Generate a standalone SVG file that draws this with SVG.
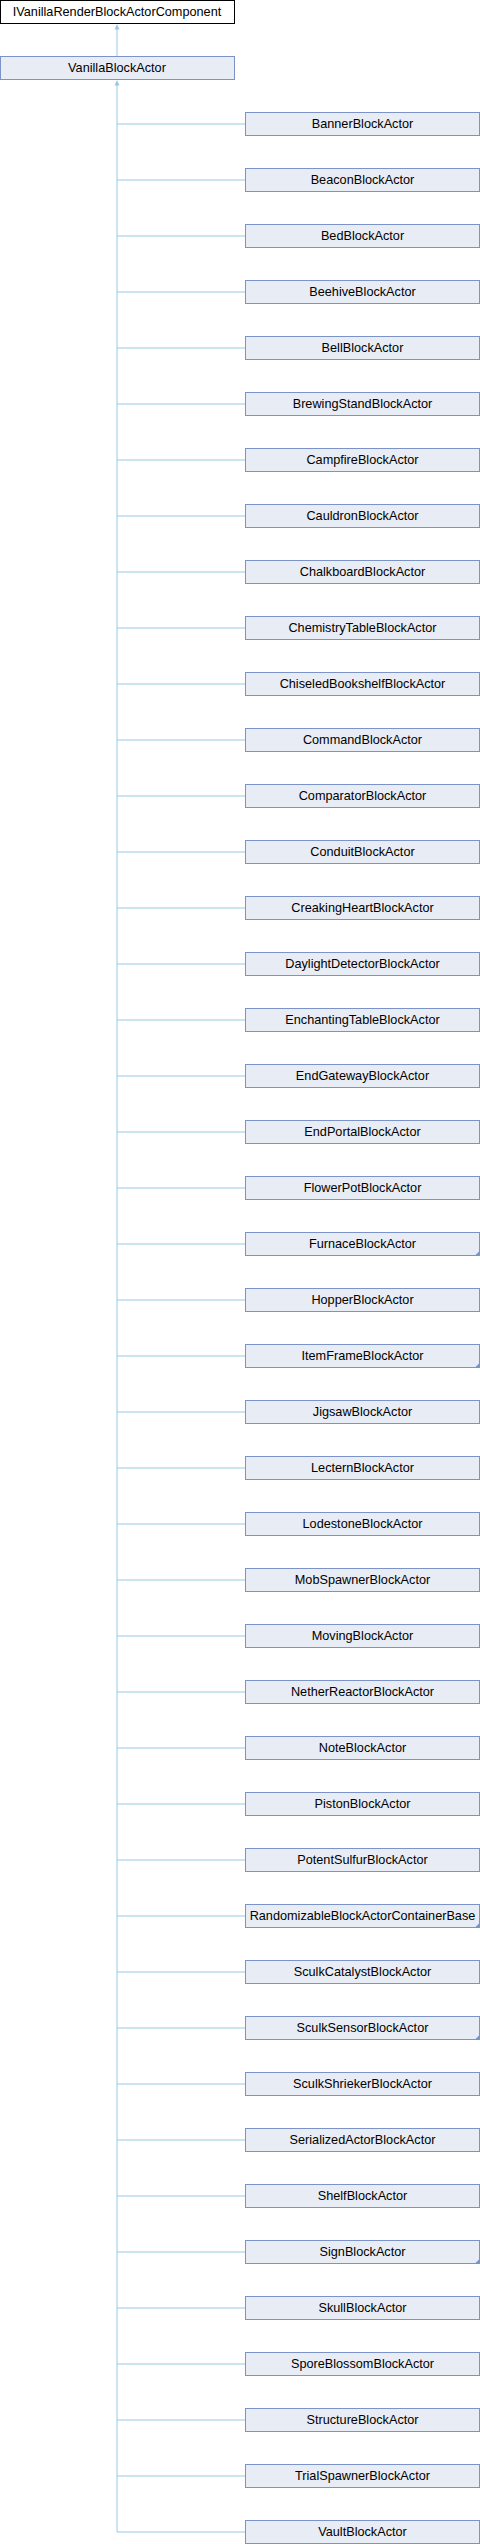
<svg xmlns="http://www.w3.org/2000/svg" width="480" height="2544" viewBox="0 0 480 2544">
<style>
.b{fill:#E8ECF5;stroke:#7B93C8;stroke-width:1}
.r{fill:#FFFFFF;stroke:#000000;stroke-width:1}
.t{font-family:"Liberation Sans",Arial,sans-serif;font-size:12.7px;fill:#000;text-anchor:middle}
.e{stroke:#97C9E8;stroke-width:1;fill:none}
.a{fill:#97C9E8}
.m{fill:#7B93C8}
</style>
<rect width="480" height="2544" fill="#FFFFFF"/>
<g id="connectors">
<path class="e" d="M117,29 V56.5 M117,85 V2532"/>
<polygon class="a" points="117,24 119.5,29.5 114.5,29.5"/>
<polygon class="a" points="117,80 119.5,85.5 114.5,85.5"/>
<path class="e" d="M117,124H245M117,180H245M117,236H245M117,292H245M117,348H245M117,404H245M117,460H245M117,516H245M117,572H245M117,628H245M117,684H245M117,740H245M117,796H245M117,852H245M117,908H245M117,964H245M117,1020H245M117,1076H245M117,1132H245M117,1188H245M117,1244H245M117,1300H245M117,1356H245M117,1412H245M117,1468H245M117,1524H245M117,1580H245M117,1636H245M117,1692H245M117,1748H245M117,1804H245M117,1860H245M117,1916H245M117,1972H245M117,2028H245M117,2084H245M117,2140H245M117,2196H245M117,2252H245M117,2308H245M117,2364H245M117,2420H245M117,2476H245M117,2532H245"/>
</g>
<g id="IVanillaRenderBlockActorComponent"><rect class="r" x="0.5" y="0.5" width="234" height="23"/><text class="t" x="117" y="15.5">IVanillaRenderBlockActorComponent</text></g>
<g id="VanillaBlockActor"><rect class="b" x="0.5" y="56.5" width="234" height="23"/><text class="t" x="117" y="71.5">VanillaBlockActor</text></g>
<g id="BannerBlockActor"><rect class="b" x="245.5" y="112.5" width="234" height="23"/><text class="t" x="362.5" y="127.5">BannerBlockActor</text></g>
<g id="BeaconBlockActor"><rect class="b" x="245.5" y="168.5" width="234" height="23"/><text class="t" x="362.5" y="183.5">BeaconBlockActor</text></g>
<g id="BedBlockActor"><rect class="b" x="245.5" y="224.5" width="234" height="23"/><text class="t" x="362.5" y="239.5">BedBlockActor</text></g>
<g id="BeehiveBlockActor"><rect class="b" x="245.5" y="280.5" width="234" height="23"/><text class="t" x="362.5" y="295.5">BeehiveBlockActor</text></g>
<g id="BellBlockActor"><rect class="b" x="245.5" y="336.5" width="234" height="23"/><text class="t" x="362.5" y="351.5">BellBlockActor</text></g>
<g id="BrewingStandBlockActor"><rect class="b" x="245.5" y="392.5" width="234" height="23"/><text class="t" x="362.5" y="407.5">BrewingStandBlockActor</text></g>
<g id="CampfireBlockActor"><rect class="b" x="245.5" y="448.5" width="234" height="23"/><text class="t" x="362.5" y="463.5">CampfireBlockActor</text></g>
<g id="CauldronBlockActor"><rect class="b" x="245.5" y="504.5" width="234" height="23"/><text class="t" x="362.5" y="519.5">CauldronBlockActor</text></g>
<g id="ChalkboardBlockActor"><rect class="b" x="245.5" y="560.5" width="234" height="23"/><text class="t" x="362.5" y="575.5">ChalkboardBlockActor</text></g>
<g id="ChemistryTableBlockActor"><rect class="b" x="245.5" y="616.5" width="234" height="23"/><text class="t" x="362.5" y="631.5">ChemistryTableBlockActor</text></g>
<g id="ChiseledBookshelfBlockActor"><rect class="b" x="245.5" y="672.5" width="234" height="23"/><text class="t" x="362.5" y="687.5">ChiseledBookshelfBlockActor</text></g>
<g id="CommandBlockActor"><rect class="b" x="245.5" y="728.5" width="234" height="23"/><text class="t" x="362.5" y="743.5">CommandBlockActor</text></g>
<g id="ComparatorBlockActor"><rect class="b" x="245.5" y="784.5" width="234" height="23"/><text class="t" x="362.5" y="799.5">ComparatorBlockActor</text></g>
<g id="ConduitBlockActor"><rect class="b" x="245.5" y="840.5" width="234" height="23"/><text class="t" x="362.5" y="855.5">ConduitBlockActor</text></g>
<g id="CreakingHeartBlockActor"><rect class="b" x="245.5" y="896.5" width="234" height="23"/><text class="t" x="362.5" y="911.5">CreakingHeartBlockActor</text></g>
<g id="DaylightDetectorBlockActor"><rect class="b" x="245.5" y="952.5" width="234" height="23"/><text class="t" x="362.5" y="967.5">DaylightDetectorBlockActor</text></g>
<g id="EnchantingTableBlockActor"><rect class="b" x="245.5" y="1008.5" width="234" height="23"/><text class="t" x="362.5" y="1023.5">EnchantingTableBlockActor</text></g>
<g id="EndGatewayBlockActor"><rect class="b" x="245.5" y="1064.5" width="234" height="23"/><text class="t" x="362.5" y="1079.5">EndGatewayBlockActor</text></g>
<g id="EndPortalBlockActor"><rect class="b" x="245.5" y="1120.5" width="234" height="23"/><text class="t" x="362.5" y="1135.5">EndPortalBlockActor</text></g>
<g id="FlowerPotBlockActor"><rect class="b" x="245.5" y="1176.5" width="234" height="23"/><text class="t" x="362.5" y="1191.5">FlowerPotBlockActor</text></g>
<g id="FurnaceBlockActor"><rect class="b" x="245.5" y="1232.5" width="234" height="23"/><polygon class="m" points="480,1250.5 480,1256 474.5,1256"/><text class="t" x="362.5" y="1247.5">FurnaceBlockActor</text></g>
<g id="HopperBlockActor"><rect class="b" x="245.5" y="1288.5" width="234" height="23"/><text class="t" x="362.5" y="1303.5">HopperBlockActor</text></g>
<g id="ItemFrameBlockActor"><rect class="b" x="245.5" y="1344.5" width="234" height="23"/><polygon class="m" points="480,1362.5 480,1368 474.5,1368"/><text class="t" x="362.5" y="1359.5">ItemFrameBlockActor</text></g>
<g id="JigsawBlockActor"><rect class="b" x="245.5" y="1400.5" width="234" height="23"/><text class="t" x="362.5" y="1415.5">JigsawBlockActor</text></g>
<g id="LecternBlockActor"><rect class="b" x="245.5" y="1456.5" width="234" height="23"/><text class="t" x="362.5" y="1471.5">LecternBlockActor</text></g>
<g id="LodestoneBlockActor"><rect class="b" x="245.5" y="1512.5" width="234" height="23"/><text class="t" x="362.5" y="1527.5">LodestoneBlockActor</text></g>
<g id="MobSpawnerBlockActor"><rect class="b" x="245.5" y="1568.5" width="234" height="23"/><text class="t" x="362.5" y="1583.5">MobSpawnerBlockActor</text></g>
<g id="MovingBlockActor"><rect class="b" x="245.5" y="1624.5" width="234" height="23"/><text class="t" x="362.5" y="1639.5">MovingBlockActor</text></g>
<g id="NetherReactorBlockActor"><rect class="b" x="245.5" y="1680.5" width="234" height="23"/><text class="t" x="362.5" y="1695.5">NetherReactorBlockActor</text></g>
<g id="NoteBlockActor"><rect class="b" x="245.5" y="1736.5" width="234" height="23"/><text class="t" x="362.5" y="1751.5">NoteBlockActor</text></g>
<g id="PistonBlockActor"><rect class="b" x="245.5" y="1792.5" width="234" height="23"/><text class="t" x="362.5" y="1807.5">PistonBlockActor</text></g>
<g id="PotentSulfurBlockActor"><rect class="b" x="245.5" y="1848.5" width="234" height="23"/><text class="t" x="362.5" y="1863.5">PotentSulfurBlockActor</text></g>
<g id="RandomizableBlockActorContainerBase"><rect class="b" x="245.5" y="1904.5" width="234" height="23"/><polygon class="m" points="480,1922.5 480,1928 474.5,1928"/><text class="t" x="362.5" y="1919.5">RandomizableBlockActorContainerBase</text></g>
<g id="SculkCatalystBlockActor"><rect class="b" x="245.5" y="1960.5" width="234" height="23"/><text class="t" x="362.5" y="1975.5">SculkCatalystBlockActor</text></g>
<g id="SculkSensorBlockActor"><rect class="b" x="245.5" y="2016.5" width="234" height="23"/><polygon class="m" points="480,2034.5 480,2040 474.5,2040"/><text class="t" x="362.5" y="2031.5">SculkSensorBlockActor</text></g>
<g id="SculkShriekerBlockActor"><rect class="b" x="245.5" y="2072.5" width="234" height="23"/><text class="t" x="362.5" y="2087.5">SculkShriekerBlockActor</text></g>
<g id="SerializedActorBlockActor"><rect class="b" x="245.5" y="2128.5" width="234" height="23"/><text class="t" x="362.5" y="2143.5">SerializedActorBlockActor</text></g>
<g id="ShelfBlockActor"><rect class="b" x="245.5" y="2184.5" width="234" height="23"/><text class="t" x="362.5" y="2199.5">ShelfBlockActor</text></g>
<g id="SignBlockActor"><rect class="b" x="245.5" y="2240.5" width="234" height="23"/><polygon class="m" points="480,2258.5 480,2264 474.5,2264"/><text class="t" x="362.5" y="2255.5">SignBlockActor</text></g>
<g id="SkullBlockActor"><rect class="b" x="245.5" y="2296.5" width="234" height="23"/><text class="t" x="362.5" y="2311.5">SkullBlockActor</text></g>
<g id="SporeBlossomBlockActor"><rect class="b" x="245.5" y="2352.5" width="234" height="23"/><text class="t" x="362.5" y="2367.5">SporeBlossomBlockActor</text></g>
<g id="StructureBlockActor"><rect class="b" x="245.5" y="2408.5" width="234" height="23"/><text class="t" x="362.5" y="2423.5">StructureBlockActor</text></g>
<g id="TrialSpawnerBlockActor"><rect class="b" x="245.5" y="2464.5" width="234" height="23"/><text class="t" x="362.5" y="2479.5">TrialSpawnerBlockActor</text></g>
<g id="VaultBlockActor"><rect class="b" x="245.5" y="2520.5" width="234" height="23"/><text class="t" x="362.5" y="2535.5">VaultBlockActor</text></g>
</svg>
